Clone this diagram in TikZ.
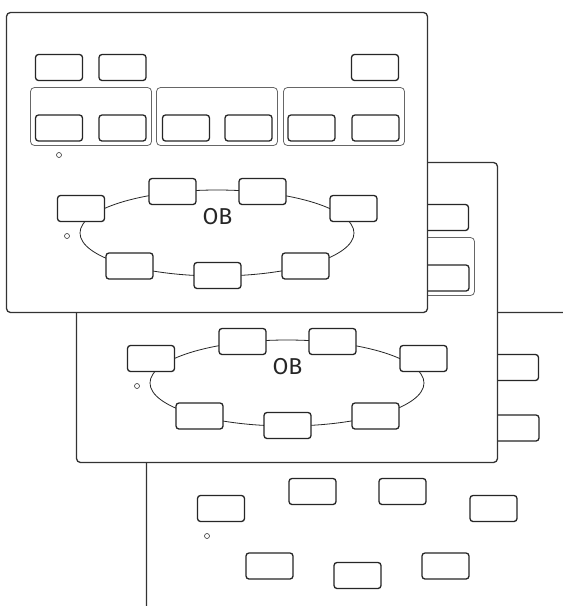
\documentclass[tikz,border=0pt]{standalone}
\usepackage{fontspec}
\setmainfont{Fira Sans}
\usetikzlibrary{shapes.geometric}

\begin{document}
\begin{tikzpicture}[x=1pt,y=-1pt,
  panel/.style={draw=black!80,fill=white,line width=1.3pt,rounded corners=4pt,minimum width=421pt,minimum height=300pt,inner sep=0pt},
  slot/.style={draw=black!85,fill=white,line width=1.3pt,rounded corners=3pt,minimum width=47pt,minimum height=26pt,inner sep=0pt},
  group/.style={draw=black!60,line width=0.8pt,rounded corners=4pt,minimum width=121pt,minimum height=58pt,inner sep=0pt},
  ring/.style={ellipse,draw=black!85,line width=0.8pt,minimum width=274pt,minimum height=86pt,inner sep=0pt},
  dot/.style={circle,draw=black!80,line width=0.6pt,minimum size=5pt,inner sep=0pt}]
\clip (0,0) rectangle (563,606);

% back to front
\foreach \p/\dx/\dy in {3/140/300,2/70/150,1/0/0}{
\begin{scope}[shift={(\dx,\dy)}]
\node[panel] at (217,162.5) (panel\p) {};

\ifnum\p<3
\node[group] at (91,116.5)	(g\p-1) {};
\node[group] at (217,116.5)	(g\p-2) {};
\node[group] at (344,116.5)	(g\p-3) {};
\node[ring] at (217,233)	(ring\p) {};
\fi

% top row
\node[slot] at (59,67.5)	(s\p-1) {};
\node[slot] at (122.5,67.5)	(s\p-2) {};
\node[slot] at (375,67.5)	(s\p-3) {};
% grouped row
\node[slot] at (59,128)	(s\p-4) {};
\node[slot] at (122.5,128)	(s\p-5) {};
\node[slot] at (186,128)	(s\p-6) {};
\node[slot] at (248.5,128)	(s\p-7) {};
\node[slot] at (311.5,128)	(s\p-8) {};
\node[slot] at (375.5,128)	(s\p-9) {};
\node[dot] at (59,155)	(d\p-1) {};

% ring
\node[slot] at (81,208.5)	(r\p-1) {};
\node[slot] at (172.5,191.5)	(r\p-2) {};
\node[slot] at (262.5,191.5)	(r\p-3) {};
\node[slot] at (353.5,208.5)	(r\p-4) {};
\node[slot] at (305.5,266)	(r\p-5) {};
\node[slot] at (217.5,275.5)	(r\p-6) {};
\node[slot] at (129.5,266)	(r\p-7) {};
\node[dot] at (67,236)	(d\p-2) {};

\ifnum\p<3
\node[font=\fontsize{23}{23}\selectfont,text=black!85,inner sep=0pt] at (217.5,217) (ob\p) {OB};
\fi
\end{scope}
}
\end{tikzpicture}
\end{document}
